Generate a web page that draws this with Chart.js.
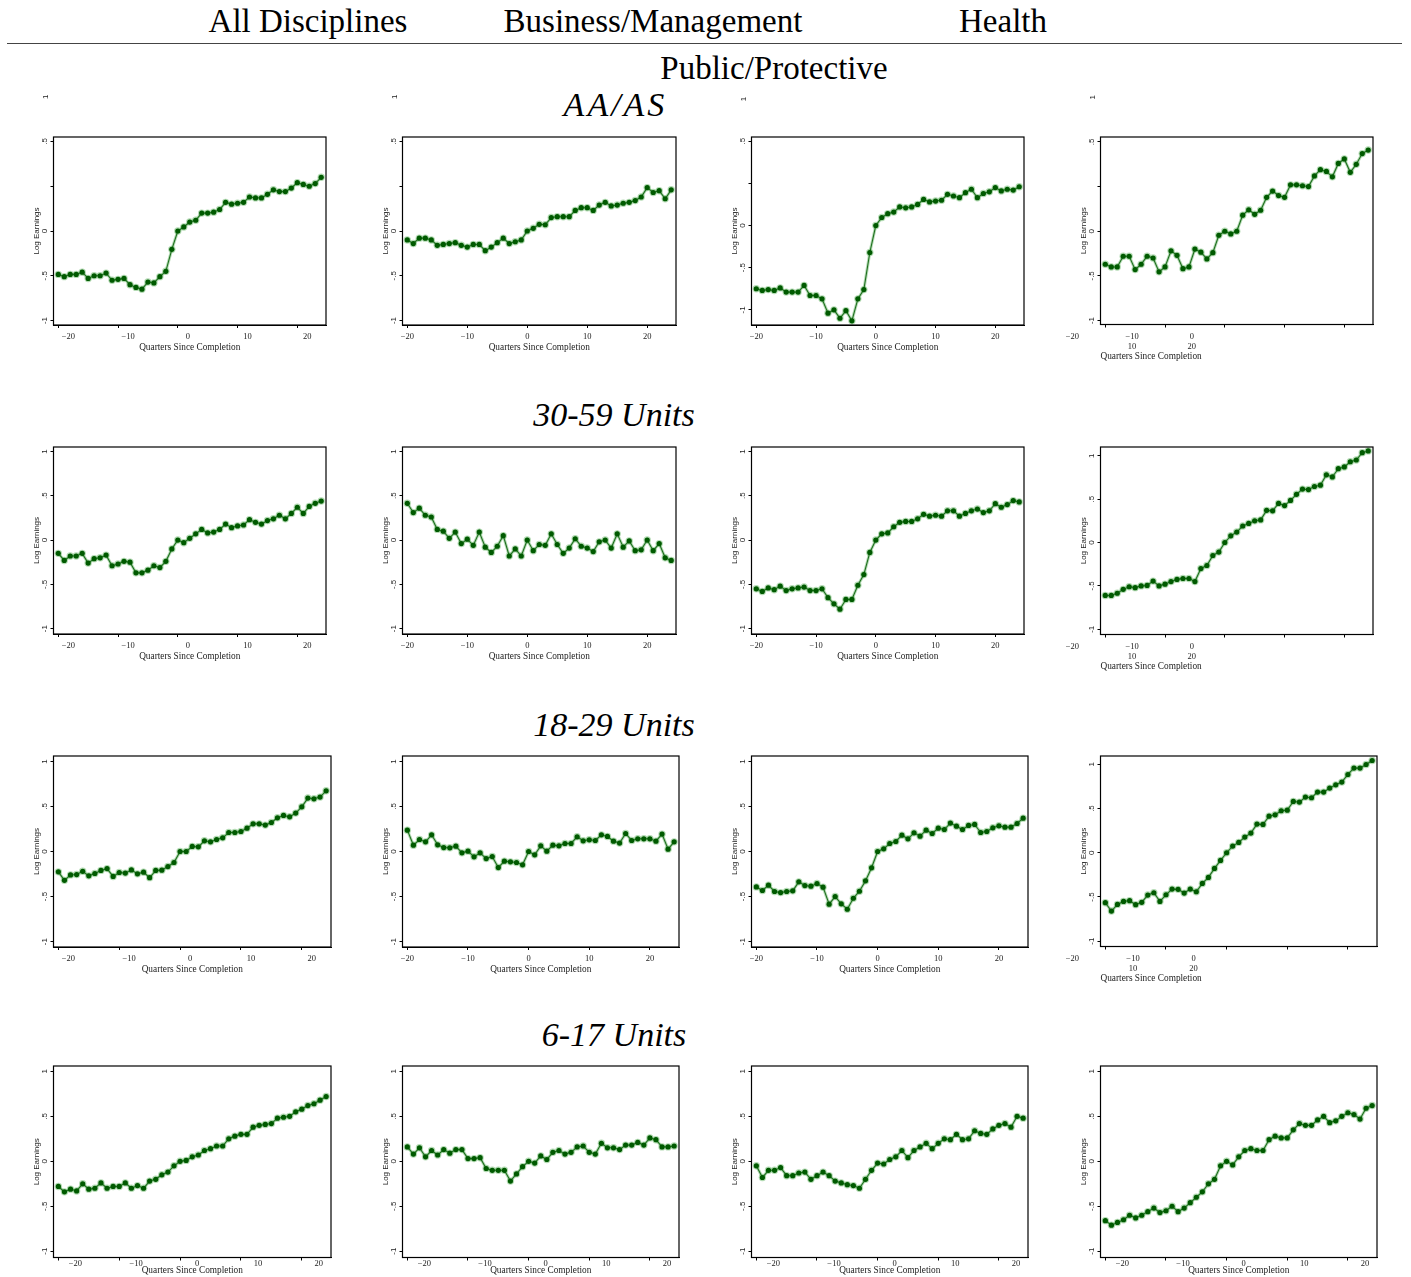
<!DOCTYPE html>
<html><head><meta charset="utf-8">
<script src="https://cdn.jsdelivr.net/npm/chart.js@4.4.1/dist/chart.umd.min.js"></script>
<style>
html,body{margin:0;padding:0;background:#fff;}
body{width:1411px;height:1277px;position:relative;overflow:hidden;}
.hdr{position:absolute;font-family:"Liberation Serif","Times New Roman",serif;font-size:33px;line-height:33px;white-space:nowrap;transform:translateX(-50%);color:#000;}
.rowt{position:absolute;font-family:"Liberation Serif","Times New Roman",serif;font-style:italic;font-size:34px;line-height:34px;white-space:nowrap;transform:translateX(-50%);color:#000;}
.rowt.wide{letter-spacing:3px;padding-left:3px;}
.rule{position:absolute;left:7px;top:43px;width:1395px;height:1px;background:#444;}
canvas{position:absolute;}
</style></head><body>
<script>
// ---------------- DATA ----------------
const disciplines = ["All Disciplines", "Business/Management", "Health", "Public/Protective"];
const awardRows = ["AA/AS", "30-59 Units", "18-29 Units", "6-17 Units"];
const quarters = [-20,-19,-18,-17,-16,-15,-14,-13,-12,-11,-10,-9,-8,-7,-6,-5,-4,-3,-2,-1,0,1,2,3,4,5,6,7,8,9,10,11,12,13,14,15,16,17,18,19,20,21,22,23,24];
const xTicks = [-20, -10, 0, 10, 20];
const yTicks = [-1, -0.5, 0, 0.5, 1];
const yTickLabels = ["-1", "-.5", "0", ".5", "1"];
const yTickLabelsTop = ["-1", "-.5", "0", "", ".5"];
const yTopExtraLabel = "1";
const xStackedTickLabels = [["\u221220"], ["\u221210", "10"], ["0", "20"], [""], [""]];
const xAxisTitle = "Quarters Since Completion";
const yAxisTitle = "Log Earnings";

const aaAll = [-0.485,-0.51,-0.485,-0.485,-0.46,-0.53,-0.50,-0.50,-0.47,-0.55,-0.54,-0.53,-0.60,-0.63,-0.65,-0.57,-0.58,-0.51,-0.45,-0.205,0,0.045,0.10,0.12,0.20,0.20,0.21,0.24,0.32,0.30,0.31,0.32,0.38,0.37,0.37,0.41,0.46,0.44,0.44,0.48,0.54,0.52,0.50,0.53,0.60];
const aaBus = [-0.10,-0.14,-0.08,-0.08,-0.10,-0.16,-0.15,-0.14,-0.13,-0.16,-0.18,-0.15,-0.15,-0.22,-0.18,-0.13,-0.08,-0.14,-0.12,-0.10,0,0.03,0.075,0.07,0.15,0.16,0.16,0.16,0.23,0.26,0.26,0.23,0.29,0.32,0.28,0.29,0.31,0.32,0.34,0.38,0.485,0.43,0.45,0.36,0.46];
const aaHealth = [-0.75,-0.77,-0.76,-0.77,-0.74,-0.79,-0.79,-0.79,-0.71,-0.83,-0.83,-0.87,-1.04,-1.00,-1.10,-1.01,-1.13,-0.87,-0.76,-0.32,0,0.095,0.14,0.16,0.22,0.21,0.22,0.25,0.31,0.28,0.29,0.30,0.37,0.35,0.33,0.39,0.43,0.33,0.38,0.40,0.45,0.41,0.43,0.42,0.46];
const aaPub = [-0.37,-0.40,-0.40,-0.28,-0.28,-0.43,-0.37,-0.28,-0.30,-0.455,-0.40,-0.22,-0.27,-0.42,-0.40,-0.20,-0.235,-0.31,-0.24,-0.045,0,-0.03,0,0.18,0.24,0.19,0.235,0.38,0.45,0.40,0.38,0.52,0.52,0.51,0.50,0.62,0.69,0.67,0.61,0.76,0.81,0.66,0.75,0.87,0.91];

const u3059All = [-0.15,-0.23,-0.18,-0.18,-0.15,-0.26,-0.21,-0.20,-0.17,-0.29,-0.27,-0.24,-0.25,-0.37,-0.37,-0.34,-0.29,-0.31,-0.24,-0.10,0,-0.03,0.02,0.07,0.12,0.08,0.09,0.12,0.18,0.14,0.16,0.17,0.23,0.20,0.18,0.22,0.24,0.28,0.24,0.30,0.37,0.30,0.38,0.415,0.44];
const u3059Bus = [0.415,0.31,0.36,0.28,0.26,0.12,0.10,0.02,0.09,-0.04,0.01,-0.06,0.09,-0.08,-0.14,-0.07,0.05,-0.18,-0.10,-0.18,0,-0.12,-0.05,-0.06,0.07,-0.05,-0.15,-0.09,0.015,-0.07,-0.09,-0.13,-0.02,0,-0.09,0.07,-0.08,-0.01,-0.12,-0.11,0,-0.12,-0.04,-0.20,-0.23];
const u3059Health = [-0.55,-0.58,-0.54,-0.56,-0.52,-0.57,-0.55,-0.54,-0.53,-0.57,-0.57,-0.55,-0.65,-0.72,-0.78,-0.67,-0.67,-0.51,-0.39,-0.14,0,0.07,0.08,0.15,0.20,0.21,0.21,0.24,0.29,0.27,0.28,0.27,0.33,0.33,0.27,0.30,0.33,0.35,0.31,0.33,0.41,0.37,0.40,0.445,0.43];
const u3059Pub = [-0.61,-0.61,-0.585,-0.54,-0.51,-0.52,-0.50,-0.495,-0.445,-0.50,-0.48,-0.45,-0.425,-0.415,-0.415,-0.45,-0.30,-0.265,-0.15,-0.11,0,0.077,0.12,0.19,0.22,0.25,0.26,0.37,0.365,0.45,0.425,0.485,0.555,0.615,0.61,0.645,0.66,0.78,0.755,0.85,0.87,0.93,0.95,1.035,1.055];

const u1829All = [-0.226,-0.32,-0.26,-0.256,-0.22,-0.27,-0.244,-0.21,-0.19,-0.277,-0.233,-0.24,-0.204,-0.248,-0.23,-0.29,-0.21,-0.207,-0.167,-0.122,0,0,0.056,0.052,0.119,0.107,0.133,0.152,0.211,0.211,0.222,0.259,0.307,0.307,0.293,0.322,0.374,0.40,0.385,0.426,0.496,0.593,0.585,0.604,0.674];
const u1829Bus = [0.237,0.07,0.133,0.107,0.185,0.074,0.044,0.041,0.059,-0.015,0.004,-0.059,-0.015,-0.078,-0.056,-0.178,-0.107,-0.115,-0.122,-0.148,0,-0.037,0.063,0.004,0.07,0.063,0.089,0.089,0.163,0.119,0.13,0.122,0.185,0.167,0.115,0.093,0.20,0.122,0.141,0.141,0.141,0.115,0.193,0.026,0.107];
const u1829Health = [-0.393,-0.433,-0.374,-0.444,-0.456,-0.444,-0.437,-0.337,-0.378,-0.385,-0.356,-0.396,-0.585,-0.50,-0.581,-0.641,-0.519,-0.441,-0.326,-0.181,0,0.03,0.089,0.111,0.181,0.141,0.207,0.17,0.237,0.20,0.259,0.244,0.315,0.281,0.244,0.289,0.30,0.211,0.222,0.263,0.285,0.27,0.27,0.311,0.37];
const u1829Pub = [-0.565,-0.659,-0.584,-0.55,-0.542,-0.587,-0.561,-0.478,-0.452,-0.55,-0.475,-0.411,-0.414,-0.456,-0.411,-0.441,-0.347,-0.279,-0.177,-0.087,0,0.075,0.117,0.177,0.222,0.324,0.32,0.414,0.429,0.475,0.482,0.58,0.573,0.629,0.622,0.686,0.686,0.731,0.768,0.799,0.885,0.957,0.957,0.998,1.043];

const u617All = [-0.28,-0.34,-0.31,-0.33,-0.25,-0.31,-0.30,-0.24,-0.30,-0.28,-0.28,-0.24,-0.30,-0.27,-0.30,-0.22,-0.20,-0.15,-0.12,-0.05,0,0.01,0.05,0.07,0.12,0.14,0.17,0.17,0.25,0.28,0.30,0.30,0.38,0.40,0.41,0.42,0.48,0.49,0.50,0.55,0.58,0.62,0.64,0.68,0.72];
const u617Bus = [0.16,0.08,0.15,0.05,0.12,0.07,0.13,0.09,0.13,0.13,0.03,0.03,0.04,-0.08,-0.10,-0.10,-0.10,-0.22,-0.14,-0.06,0,-0.02,0.06,0.02,0.10,0.12,0.08,0.10,0.16,0.17,0.10,0.08,0.20,0.15,0.15,0.13,0.18,0.18,0.21,0.18,0.26,0.24,0.16,0.16,0.17];
const u617Health = [-0.05,-0.18,-0.10,-0.10,-0.07,-0.16,-0.16,-0.13,-0.12,-0.20,-0.16,-0.12,-0.16,-0.22,-0.24,-0.26,-0.27,-0.30,-0.20,-0.10,-0.02,-0.03,0.02,0.05,0.12,0.04,0.12,0.16,0.20,0.14,0.20,0.25,0.24,0.30,0.24,0.25,0.34,0.31,0.30,0.36,0.40,0.42,0.38,0.50,0.48];
const u617Pub = [-0.66,-0.71,-0.68,-0.65,-0.60,-0.63,-0.60,-0.56,-0.52,-0.57,-0.55,-0.50,-0.56,-0.52,-0.46,-0.40,-0.34,-0.25,-0.20,-0.05,0,-0.04,0.05,0.12,0.14,0.12,0.12,0.24,0.28,0.26,0.26,0.35,0.42,0.40,0.40,0.46,0.50,0.43,0.45,0.50,0.54,0.52,0.47,0.59,0.62];

const seriesGrid = [
  [aaAll, aaBus, aaHealth, aaPub],
  [u3059All, u3059Bus, u3059Health, u3059Pub],
  [u1829All, u1829Bus, u1829Health, u1829Pub],
  [u617All, u617Bus, u617Health, u617Pub]
];

// ---------------- LAYOUT (positions / styles) ----------------
const rowBox = [{T:137,B:324.5},{T:447,B:634.3},{T:755.5,B:946},{T:1066,B:1257}];
const colBoxA = [[53.3,326],[402.3,676],[751.7,1024],[1100,1372.5]];
const colBoxB = [[53.3,330.7],[402.3,679.3],[751.7,1028.3],[1100,1376.5]];
const yRanges = [
  [[-1.05,1.05],[-1.05,1.05],[-1.18,1.05],[-1.045,1.056]],
  [[-1.06,1.05],[-1.06,1.05],[-1.06,1.05],[-1.06,1.10]],
  [[-1.06,1.06],[-1.06,1.06],[-1.06,1.06],[-1.06,1.094]],
  [[-1.07,1.06],[-1.07,1.06],[-1.07,1.06],[-1.07,1.06]]
];
const headerPos = [{x:308,top:4.5},{x:653,top:4.5},{x:1003,top:4.5},{x:774,top:51.5}];
const rowTitlePos = [{x:614,top:88},{x:614,top:398},{x:614,top:708},{x:614,top:1018}];

disciplines.forEach((t,i)=>{
  const d=document.createElement('div'); d.className='hdr'; d.textContent=t;
  d.style.left=headerPos[i].x+'px'; d.style.top=headerPos[i].top+'px'; document.body.appendChild(d);
});
const rule=document.createElement('div'); rule.className='rule'; document.body.appendChild(rule);
awardRows.forEach((t,i)=>{
  const d=document.createElement('div'); d.className='rowt' + (i === 0 ? ' wide' : ''); d.textContent=t;
  d.style.left=rowTitlePos[i].x+'px'; d.style.top=rowTitlePos[i].top+'px'; document.body.appendChild(d);
});

const SANS = "'Liberation Sans', Arial, sans-serif";
const SERIF = "'Liberation Serif', 'Times New Roman', serif";
const fmtX = v => String(v).replace('-', '\u2212');

const boxPlugin = {
  id: 'box',
  afterDraw(chart, args, opts) {
    const {ctx, chartArea: a} = chart;
    ctx.save();
    ctx.strokeStyle = '#000'; ctx.lineWidth = 1.2;
    ctx.strokeRect(a.left, a.top, a.right - a.left, a.bottom - a.top);
    if (opts && opts.topLabel) {
      const ys = chart.scales.y;
      ctx.font = '8px ' + SANS; ctx.fillStyle = '#222';
      ctx.translate(a.left - 8, ys.getPixelForValue(1.5));
      ctx.rotate(-Math.PI / 2);
      ctx.textAlign = 'center'; ctx.textBaseline = 'middle';
      ctx.fillText(opts.topLabel, 0, 0);
    }
    ctx.restore();
  }
};

function makePanel(r, c) {
  const vals = seriesGrid[r][c];
  const box = (r < 2 ? colBoxA : colBoxB)[c];
  const L = box[0], R = box[1], T = rowBox[r].T, B = rowBox[r].B;
  const W = 21.5, padL = 24, padR = 6, padT = 50, padB = 2;
  const stacked = (c === 3 && r < 3);
  const Hx = r === 3 ? 18.5 : (stacked ? 37.5 : 28);
  const tickPad = r === 3 ? -2 : 4;
  let labelOffset = 0;
  if (r === 3) labelOffset = 17; else if (c === 0) labelOffset = 10; else if (stacked) labelOffset = -33;
  const cw = Math.round(W + padL + (R - L) + padR);
  const ch = Math.round(padT + (B - T) + Hx + padB);
  const cv = document.createElement('canvas');
  cv.width = cw; cv.height = ch;
  cv.style.width = cw + 'px'; cv.style.height = ch + 'px';
  cv.style.left = (L - W - padL) + 'px'; cv.style.top = (T - padT) + 'px';
  document.body.appendChild(cv);
  const pts = quarters.map((q, i) => ({x: q, y: vals[i]}));
  const gridOpts = {display: true, drawOnChartArea: false, drawTicks: true, tickLength: 3, color: '#000', lineWidth: 1};
  new Chart(cv, {
    type: 'line',
    data: {datasets: [
      {data: pts, borderColor: '#1f6f1f', borderWidth: 1.1, pointRadius: 2.6, pointBackgroundColor: '#005a00', pointBorderWidth: 0, order: 0, tension: 0},
      {data: pts, borderColor: 'rgba(120,190,120,0.55)', borderWidth: 3, pointRadius: 3.7, pointBackgroundColor: 'rgba(130,195,130,0.6)', pointBorderWidth: 0, order: 1, tension: 0}
    ]},
    options: {
      responsive: false, animation: false, devicePixelRatio: 1,
      layout: {padding: {left: padL, right: padR, top: padT, bottom: padB}},
      plugins: {legend: {display: false}, tooltip: {enabled: false}, box: {topLabel: r === 0 ? yTopExtraLabel : null}},
      scales: {
        x: {
          type: 'linear', min: -20.8, max: 24.8,
          afterBuildTicks: s => { s.ticks = xTicks.map(v => ({value: v})); },
          afterFit: s => { s.height = Hx; },
          grid: gridOpts,
          border: {display: true, color: '#000', width: 1},
          ticks: {
            font: {family: SERIF, size: 8.5}, color: '#222', padding: tickPad, labelOffset: labelOffset,
            maxRotation: 0, minRotation: 0, autoSkip: false,
            callback: (v, i) => stacked ? xStackedTickLabels[xTicks.indexOf(v)] : fmtX(v)
          },
          title: {display: true, text: xAxisTitle, font: {family: SERIF, size: 9.3}, color: '#222', padding: 0, align: stacked ? 'start' : 'center'}
        },
        y: {
          min: yRanges[r][c][0], max: yRanges[r][c][1],
          afterBuildTicks: s => { s.ticks = yTicks.map(v => ({value: v})); },
          afterFit: s => { s.width = W; },
          grid: gridOpts,
          border: {display: true, color: '#000', width: 1},
          ticks: {
            font: {family: SANS, size: 8}, color: '#222', padding: 1, minRotation: 90, maxRotation: 90,
            crossAlign: 'center', autoSkip: false,
            callback: v => (r === 0 ? yTickLabelsTop : yTickLabels)[yTicks.indexOf(v)]
          },
          title: {display: true, text: yAxisTitle, font: {family: SANS, size: 8}, color: '#222', padding: 0}
        }
      }
    },
    plugins: [boxPlugin]
  });
}

for (let r = 0; r < 4; r++) for (let c = 0; c < 4; c++) makePanel(r, c);
</script>
</body></html>
